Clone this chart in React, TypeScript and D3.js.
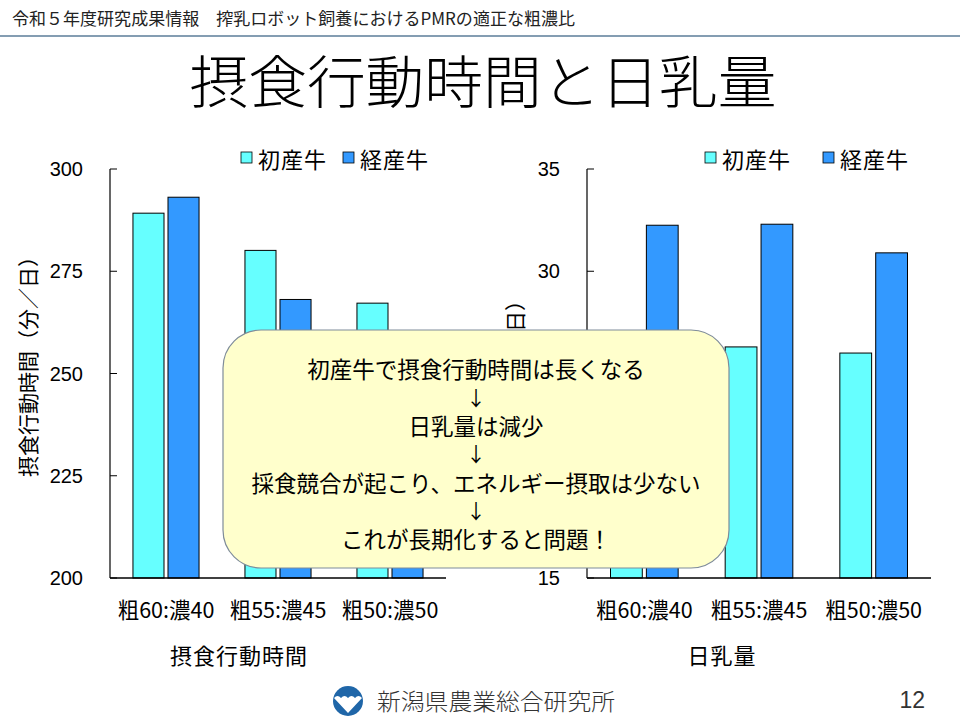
import React from "react";
import * as d3 from "d3";

const categories = ["粗60:濃40", "粗55:濃45", "粗50:濃50"];
const seriesNames = ["初産牛", "経産牛"];
const seriesColors = ["#66FFFF", "#3399FF"];
const feedingPrimi = [289.2, 280.1, 267.2];
const feedingMulti = [293.1, 268.1, 258.0];
const milkPrimi = [26.5, 26.3, 26.0];
const milkMulti = [32.25, 32.3, 30.9];
const feedingTicks = [200, 225, 250, 275, 300];
const milkTicks = [15, 20, 25, 30, 35];

const JP = "'Noto Sans CJK JP', 'Noto Sans', sans-serif";
const NUM = "'Liberation Sans', Arial, sans-serif";

type PanelProps = {
  x0: number;
  x1: number;
  domain: [number, number];
  ticks: number[];
  primi: number[];
  multi: number[];
  yLabel: string;
  yLabelX: number;
  yLabelEnd: number;
  title: string;
  titleX: number;
  legendX: number[];
};

const TOP = 169;
const BOTTOM = 578;

function Panel(p: PanelProps) {
  const y = d3.scaleLinear().domain(p.domain).range([BOTTOM, TOP]);
  const x = d3
    .scaleBand<string>()
    .domain(categories)
    .range([p.x0, p.x1])
    .paddingInner(0.41)
    .paddingOuter(0.205);
  const inner = d3
    .scaleBand<string>()
    .domain(seriesNames)
    .range([0, x.bandwidth()])
    .paddingInner(0.114);
  const data = [p.primi, p.multi];
  return (
    <g>
      {categories.map((c, i) =>
        seriesNames.map((s, j) => {
          const v = data[j][i];
          const bx = (x(c) as number) + (inner(s) as number);
          return (
            <rect
              key={c + s}
              x={bx}
              y={y(v)}
              width={inner.bandwidth()}
              height={BOTTOM - y(v)}
              fill={seriesColors[j]}
              stroke="#000"
              strokeWidth={1}
            />
          );
        })
      )}
      <line x1={p.x0} x2={p.x0} y1={TOP} y2={BOTTOM} stroke="#000" strokeWidth={1.2} />
      <line x1={p.x0} x2={p.x1} y1={BOTTOM} y2={BOTTOM} stroke="#000" strokeWidth={1.5} />
      {p.ticks.map((t) => (
        <g key={t}>
          <line x1={p.x0} x2={p.x0 + 7} y1={y(t)} y2={y(t)} stroke="#000" strokeWidth={1} />
          <text
            x={p.x0 - 27}
            y={y(t)}
            textAnchor="end"
            dominantBaseline="central"
            fontFamily={NUM}
            fontSize={20}
            fill="#000"
          >
            {t}
          </text>
        </g>
      ))}
      {categories.map((c) => (
        <text
          key={c}
          x={(x(c) as number) + x.bandwidth() / 2}
          y={608}
          textAnchor="middle"
          dominantBaseline="central"
          fontFamily={JP}
          fontSize={21.5}
          fill="#000"
        >
          {c}
        </text>
      ))}
      <text
        x={p.titleX}
        y={654}
        textAnchor="middle"
        dominantBaseline="central"
        fontFamily={JP}
        fontSize={22}
        fill="#000"
        letterSpacing={1}
      >
        {p.title}
      </text>
      <text
        transform={`translate(${p.yLabelX},${p.yLabelEnd}) rotate(-90)`}
        textAnchor="end"
        dominantBaseline="central"
        fontFamily={JP}
        fontSize={21}
        fill="#000"
      >
        {p.yLabel}
      </text>
      {seriesNames.map((s, j) => (
        <g key={s}>
          <rect
            x={p.legendX[j]}
            y={152}
            width={11}
            height={11}
            fill={seriesColors[j]}
            stroke="#000"
            strokeWidth={0.8}
          />
          <text
            x={p.legendX[j] + 17}
            y={158}
            dominantBaseline="central"
            fontFamily={JP}
            fontSize={22}
            letterSpacing={1}
            fill="#000"
          >
            {s}
          </text>
        </g>
      ))}
    </g>
  );
}

const calloutLines = [
  "初産牛で摂食行動時間は長くなる",
  "↓",
  "日乳量は減少",
  "↓",
  "採食競合が起こり、エネルギー摂取は少ない",
  "↓",
  "これが長期化すると問題！",
];
const calloutY = [368, 397, 425, 453, 482, 510, 538];

export default function App() {
  return (
    <svg
      width={960}
      height={720}
      viewBox="0 0 960 720"
      style={{ position: "absolute", left: 0, top: 0, background: "#fff" }}
    >
      <rect x={0} y={0} width={960} height={720} fill="#fff" />
      <text
        x={12}
        y={17}
        dominantBaseline="central"
        fontFamily={JP}
        fontSize={17}
        textLength={563}
        lengthAdjust="spacingAndGlyphs"
        fill="#222"
      >
        令和５年度研究成果情報　搾乳ロボット飼養におけるPMRの適正な粗濃比
      </text>
      <line x1={0} x2={960} y1={36} y2={36} stroke="#5b7c99" strokeWidth={1.5} />
      <text
        x={483}
        y={78}
        textAnchor="middle"
        dominantBaseline="central"
        fontFamily={JP}
        fontSize={57}
        fontWeight={300}
        textLength={587}
        lengthAdjust="spacingAndGlyphs"
        fill="#000"
      >
        摂食行動時間と日乳量
      </text>

      <Panel
        x0={110}
        x1={446}
        domain={[200, 300]}
        ticks={feedingTicks}
        primi={feedingPrimi}
        multi={feedingMulti}
        yLabel="摂食行動時間（分／日）"
        yLabelX={27}
        yLabelEnd={246}
        title="摂食行動時間"
        titleX={239}
        legendX={[241, 343]}
      />
      <Panel
        x0={587}
        x1={931}
        domain={[15, 35]}
        ticks={milkTicks}
        primi={milkPrimi}
        multi={milkMulti}
        yLabel="日乳量（kg／日）"
        yLabelX={514}
        yLabelEnd={290}
        title="日乳量"
        titleX={722}
        legendX={[705, 823]}
      />

      <rect
        x={223}
        y={330}
        width={506}
        height={238}
        rx={38}
        ry={38}
        fill="#FFFFCC"
        stroke="#7f8c99"
        strokeWidth={1.2}
      />
      {calloutLines.map((l, i) => (
        <text
          key={i}
          x={476}
          y={calloutY[i]}
          textAnchor="middle"
          dominantBaseline="central"
          fontFamily={JP}
          fontSize={l === "↓" ? 20 : 22.5}
          fill="#000"
        >
          {l}
        </text>
      ))}

      <circle cx={348} cy={701} r={15} fill="#1f66a8" />
      <path
        d="M334,698 Q337.5,694 341,698 Q344.5,694 348,698 Q351.5,694 355,698 Q358.5,694 362,698 L348,713 Z"
        fill="#fff"
      />
      <text
        x={377}
        y={700}
        dominantBaseline="central"
        fontFamily={JP}
        fontSize={23}
        fontWeight={300}
        textLength={238}
        lengthAdjust="spacingAndGlyphs"
        fill="#333"
      >
        新潟県農業総合研究所
      </text>
      <text
        x={925}
        y={700}
        textAnchor="end"
        dominantBaseline="central"
        fontFamily={NUM}
        fontSize={23}
        fill="#333"
      >
        12
      </text>
    </svg>
  );
}
